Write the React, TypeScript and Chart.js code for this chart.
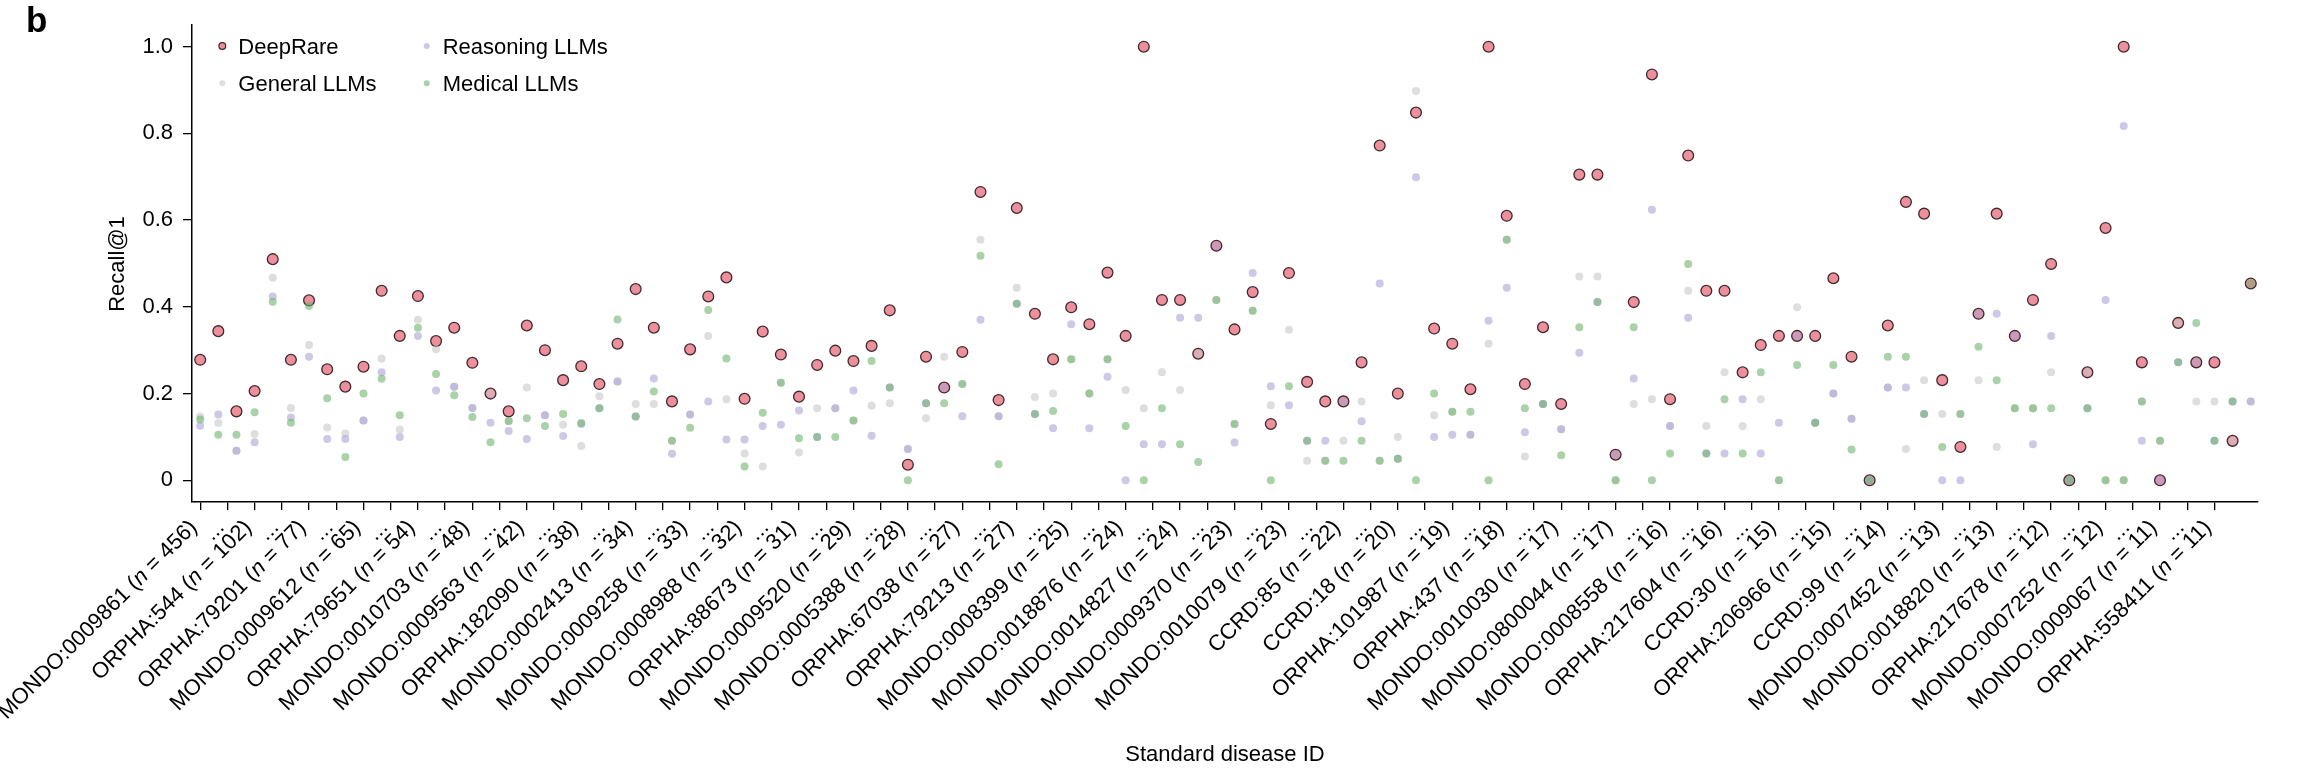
import React, { useEffect, useRef } from 'react';
import { Chart, registerables } from 'chart.js';

Chart.register(...registerables);

// ---------------- data ----------------
const diseaseIds = [
  'MONDO:0009861', 'ORPHA:544', 'ORPHA:79201', 'MONDO:0009612', 'ORPHA:79651', 'MONDO:0010703',
  'MONDO:0009563', 'ORPHA:182090', 'MONDO:0002413', 'MONDO:0009258', 'MONDO:0008988', 'ORPHA:88673',
  'MONDO:0009520', 'MONDO:0005388', 'ORPHA:67038', 'ORPHA:79213', 'MONDO:0008399', 'MONDO:0018876',
  'MONDO:0014827', 'MONDO:0009370', 'MONDO:0010079', 'CCRD:85', 'CCRD:18', 'ORPHA:101987',
  'ORPHA:437', 'MONDO:0010030', 'MONDO:0800044', 'MONDO:0008558', 'ORPHA:217604', 'CCRD:30',
  'ORPHA:206966', 'CCRD:99', 'MONDO:0007452', 'MONDO:0018820', 'ORPHA:217678', 'MONDO:0007252',
  'MONDO:0009067', 'ORPHA:558411',
];
const caseCounts = [
  456, 102, 77, 65, 54, 48, 42, 38, 34, 33, 32, 31, 29, 28, 27, 27, 25, 24, 24, 23, 23, 22, 20, 19,
  18, 17, 17, 16, 16, 15, 15, 14, 13, 13, 12, 12, 11, 11,
];
const ellipsisLabel = '...';

const deepRare = [
  0.278, 0.344, 0.159, 0.206, 0.51, 0.278, 0.415, 0.256, 0.216, 0.262,
  0.437, 0.333, 0.425, 0.321, 0.352, 0.271, 0.2, 0.159, 0.357, 0.3,
  0.231, 0.263, 0.222, 0.315, 0.441, 0.352, 0.182, 0.302, 0.424, 0.468,
  0.188, 0.343, 0.29, 0.193, 0.266, 0.299, 0.275, 0.31, 0.392, 0.036,
  0.285, 0.214, 0.296, 0.665, 0.185, 0.628, 0.384, 0.279, 0.399, 0.36,
  0.479, 0.333, 1.0, 0.416, 0.416, 0.292, 0.541, 0.348, 0.434, 0.13,
  0.478, 0.227, 0.182, 0.182, 0.272, 0.772, 0.2, 0.848, 0.35, 0.315,
  0.21, 1.0, 0.61, 0.222, 0.353, 0.176, 0.705, 0.705, 0.059, 0.411,
  0.936, 0.187, 0.749, 0.437, 0.437, 0.249, 0.312, 0.333, 0.333, 0.333,
  0.466, 0.285, 0, 0.357, 0.642, 0.615, 0.231, 0.077, 0.384, 0.615,
  0.333, 0.416, 0.499, 0, 0.249, 0.582, 1.0, 0.272, 0, 0.363,
  0.272, 0.272, 0.091, 0.454,
];
const generalLLMs = [
  0.147, 0.132, 0.068, 0.107, 0.467, 0.167, 0.312, 0.122, 0.108, 0.138,
  0.281, 0.117, 0.37, 0.302, 0.216, 0.167, 0.2, 0.137, 0.214, 0.15,
  0.128, 0.079, 0.194, 0.228, 0.176, 0.176, 0.091, 0.152, 0.333, 0.187,
  0.062, 0.032, 0.225, 0.064, 0.166, 0.166, 0.138, 0.172, 0.178, 0.072,
  0.143, 0.285, 0.222, 0.555, 0.148, 0.444, 0.192, 0.2, 0.279, 0.2,
  0.279, 0.208, 0.166, 0.249, 0.208, 0.292, 0.416, 0.13, 0.391, 0.173,
  0.347, 0.045, 0.045, 0.091, 0.182, 0.045, 0.1, 0.898, 0.15, 0.158,
  0.105, 0.315, 0.555, 0.055, 0.176, 0.118, 0.47, 0.47, 0, 0.176,
  0.187, 0.125, 0.437, 0.125, 0.249, 0.125, 0.187, 0, 0.399, 0.133,
  0.2, 0.142, 0, 0.214, 0.072, 0.231, 0.153, 0.153, 0.231, 0.077,
  0.166, 0.166, 0.249, 0, 0.249, 0, 0, 0.182, 0.091, 0.363,
  0.182, 0.182, 0.091, 0.182,
];
const reasoningLLMs = [
  0.126, 0.152, 0.068, 0.088, 0.424, 0.145, 0.285, 0.095, 0.095, 0.138,
  0.249, 0.1, 0.333, 0.207, 0.216, 0.167, 0.133, 0.114, 0.095, 0.15,
  0.102, 0.13, 0.166, 0.228, 0.147, 0.235, 0.061, 0.152, 0.182, 0.094,
  0.094, 0.125, 0.128, 0.161, 0.1, 0.166, 0.207, 0.103, 0.214, 0.072,
  0.178, 0.214, 0.148, 0.37, 0.148, 0.407, 0.153, 0.12, 0.36, 0.12,
  0.239, 0, 0.083, 0.083, 0.375, 0.375, 0.541, 0.087, 0.478, 0.217,
  0.173, 0.091, 0.091, 0.182, 0.136, 0.454, 0.05, 0.699, 0.1, 0.105,
  0.105, 0.368, 0.444, 0.111, 0.176, 0.118, 0.294, 0.411, 0.059, 0.235,
  0.624, 0.125, 0.375, 0.062, 0.062, 0.187, 0.062, 0.133, 0.333, 0.133,
  0.2, 0.142, 0, 0.214, 0.214, 0.153, 0, 0, 0.384, 0.384,
  0.333, 0.083, 0.333, 0, 0.166, 0.416, 0.817, 0.091, 0, 0.272,
  0.272, 0.091, 0.182, 0.182,
];
const medicalLLMs = [
  0.14, 0.105, 0.105, 0.157, 0.412, 0.133, 0.402, 0.189, 0.054, 0.2,
  0.234, 0.15, 0.352, 0.245, 0.196, 0.146, 0.088, 0.137, 0.143, 0.125,
  0.153, 0.132, 0.166, 0.371, 0.147, 0.205, 0.091, 0.121, 0.393, 0.281,
  0.032, 0.156, 0.225, 0.097, 0.1, 0.1, 0.138, 0.275, 0.214, 0,
  0.178, 0.178, 0.222, 0.518, 0.037, 0.407, 0.153, 0.16, 0.279, 0.2,
  0.279, 0.125, 0, 0.166, 0.083, 0.042, 0.416, 0.13, 0.391, 0,
  0.217, 0.091, 0.045, 0.045, 0.091, 0.045, 0.05, 0, 0.2, 0.158,
  0.158, 0, 0.555, 0.166, 0.176, 0.058, 0.353, 0.411, 0, 0.353,
  0, 0.062, 0.499, 0.062, 0.187, 0.062, 0.249, 0, 0.266, 0.133,
  0.266, 0.071, 0, 0.285, 0.285, 0.153, 0.077, 0.153, 0.308, 0.231,
  0.166, 0.166, 0.166, 0, 0.166, 0, 0, 0.182, 0.091, 0.272,
  0.363, 0.091, 0.182, 0.454,
];
const yTickValues = [0, 0.2, 0.4, 0.6, 0.8, 1.0];
const TICK_STEP = 1.5; // tick spacing in category units

// ---------------- styling ----------------
const W = 2315;
const H = 779;
const FONT = '"Liberation Sans", Arial, Helvetica, sans-serif';
const DR_FILL = '#EE8F9C';
const DR_EDGE = '#3f2a2e';
const GEN_FILL = 'rgba(200,200,200,0.6)';
const REA_FILL = 'rgba(170,163,213,0.6)';
const MED_FILL = 'rgba(112,180,112,0.6)';

type TickLabel = { prefix: string; italic: string; suffix: string };
const tickLabels: TickLabel[] = [];
diseaseIds.forEach((id, k) => {
  tickLabels.push({ prefix: `${id} (`, italic: 'n', suffix: ` = ${caseCounts[k]})` });
  if (k < diseaseIds.length - 1) tickLabels.push({ prefix: ellipsisLabel, italic: '', suffix: '' });
});

const toPoints = (arr: number[]) => arr.map((v, i) => ({ x: i, y: v }));

const overlayPlugin = {
  id: 'overlay',
  afterDraw(chart: any) {
    const ctx: CanvasRenderingContext2D = chart.ctx;
    const xs = chart.scales.x;
    const axisY = chart.chartArea.bottom;
    ctx.save();
    ctx.fillStyle = '#000';

    // panel letter
    ctx.font = `bold 35px ${FONT}`;
    ctx.textAlign = 'left';
    ctx.textBaseline = 'alphabetic';
    ctx.fillText('b', 26, 32);

    // x tick labels (rotated 45°, right end at tick)
    const normal = `22px ${FONT}`;
    const ital = `italic 22px ${FONT}`;
    tickLabels.forEach((lab, k) => {
      const px = xs.getPixelForValue(k * TICK_STEP);
      ctx.font = normal;
      const w1 = ctx.measureText(lab.prefix).width;
      const w3 = ctx.measureText(lab.suffix).width;
      ctx.font = ital;
      const w2 = lab.italic ? ctx.measureText(lab.italic).width : 0;
      ctx.save();
      ctx.translate(px - 2, axisY + 26.5);
      ctx.rotate(-Math.PI / 4);
      ctx.textAlign = 'left';
      ctx.textBaseline = 'alphabetic';
      let x0 = -(w1 + w2 + w3);
      ctx.font = normal;
      ctx.fillText(lab.prefix, x0, 0);
      x0 += w1;
      if (lab.italic) {
        ctx.font = ital;
        ctx.fillText(lab.italic, x0, 0);
        x0 += w2;
      }
      if (lab.suffix) {
        ctx.font = normal;
        ctx.fillText(lab.suffix, x0, 0);
      }
      ctx.restore();
    });

    // axis titles
    ctx.font = `22px ${FONT}`;
    ctx.textAlign = 'center';
    ctx.textBaseline = 'alphabetic';
    ctx.fillText('Standard disease ID', (chart.chartArea.left + chart.chartArea.right) / 2, 761);
    ctx.save();
    ctx.translate(124, 264);
    ctx.rotate(-Math.PI / 2);
    ctx.fillText('Recall@1', 0, 0);
    ctx.restore();

    // legend (two columns, inside plot)
    const items = [
      { label: 'DeepRare', fill: DR_FILL, edge: DR_EDGE, r: 3.4, x: 222.3, y: 46 },
      { label: 'General LLMs', fill: GEN_FILL, edge: null, r: 3, x: 222.3, y: 83.3 },
      { label: 'Reasoning LLMs', fill: REA_FILL, edge: null, r: 3, x: 426.7, y: 46 },
      { label: 'Medical LLMs', fill: MED_FILL, edge: null, r: 3, x: 426.7, y: 83.3 },
    ];
    items.forEach((it) => {
      ctx.beginPath();
      ctx.arc(it.x, it.y, it.r, 0, Math.PI * 2);
      ctx.fillStyle = it.fill;
      ctx.fill();
      if (it.edge) {
        ctx.lineWidth = 1.2;
        ctx.strokeStyle = it.edge;
        ctx.stroke();
      }
      ctx.fillStyle = '#000';
      ctx.font = `22px ${FONT}`;
      ctx.textAlign = 'left';
      ctx.textBaseline = 'alphabetic';
      ctx.fillText(it.label, it.x + 16, it.y + 8);
    });
    ctx.restore();
  },
};

export default function App() {
  const canvasRef = useRef<HTMLCanvasElement | null>(null);

  useEffect(() => {
    const canvas = canvasRef.current;
    if (!canvas) return;
    const chart = new Chart(canvas, {
      type: 'scatter',
      data: {
        datasets: [
          {
            label: 'DeepRare',
            data: toPoints(deepRare),
            backgroundColor: DR_FILL,
            borderColor: DR_EDGE,
            borderWidth: 1.3,
            pointRadius: 5.4,
            order: 4,
          },
          {
            label: 'General LLMs',
            data: toPoints(generalLLMs),
            backgroundColor: GEN_FILL,
            borderWidth: 0,
            pointRadius: 4,
            order: 3,
          },
          {
            label: 'Reasoning LLMs',
            data: toPoints(reasoningLLMs),
            backgroundColor: REA_FILL,
            borderWidth: 0,
            pointRadius: 4,
            order: 2,
          },
          {
            label: 'Medical LLMs',
            data: toPoints(medicalLLMs),
            backgroundColor: MED_FILL,
            borderWidth: 0,
            pointRadius: 4,
            order: 1,
          },
        ],
      },
      options: {
        responsive: false,
        maintainAspectRatio: false,
        animation: false,
        devicePixelRatio: 1,
        layout: { padding: { left: 0, right: W - 2258, top: 25, bottom: 0 } },
        plugins: {
          legend: { display: false },
          tooltip: { enabled: false },
        },
        scales: {
          x: {
            type: 'linear',
            min: -0.45,
            max: 113.4,
            afterBuildTicks: (s: any) => {
              s.ticks = tickLabels.map((_, k) => ({ value: k * TICK_STEP }));
            },
            afterFit: (s: any) => {
              s.height = H - 502;
            },
            ticks: { display: false },
            grid: { drawOnChartArea: false, drawTicks: true, tickLength: 8, color: '#000', lineWidth: 1.3 },
            border: { display: true, color: '#000', width: 1.5 },
          },
          y: {
            type: 'linear',
            min: -0.05,
            max: 1.05,
            afterBuildTicks: (s: any) => {
              s.ticks = yTickValues.map((v) => ({ value: v }));
            },
            afterFit: (s: any) => {
              s.width = 192;
            },
            ticks: {
              callback: (v: any) => (Number(v) === 0 ? '0' : Number(v).toFixed(1)),
              font: { family: FONT, size: 22 },
              color: '#000',
              padding: 10,
            },
            grid: { drawOnChartArea: false, drawTicks: true, tickLength: 9, color: '#000', lineWidth: 1.3 },
            border: { display: true, color: '#000', width: 1.5 },
          },
        },
      },
      plugins: [overlayPlugin],
    } as any);
    return () => chart.destroy();
  }, []);

  return (
    <div style={{ position: 'absolute', left: 0, top: 0, width: W, height: H, background: '#fff' }}>
      <canvas ref={canvasRef} width={W} height={H} style={{ width: W, height: H, display: 'block' }} />
    </div>
  );
}
